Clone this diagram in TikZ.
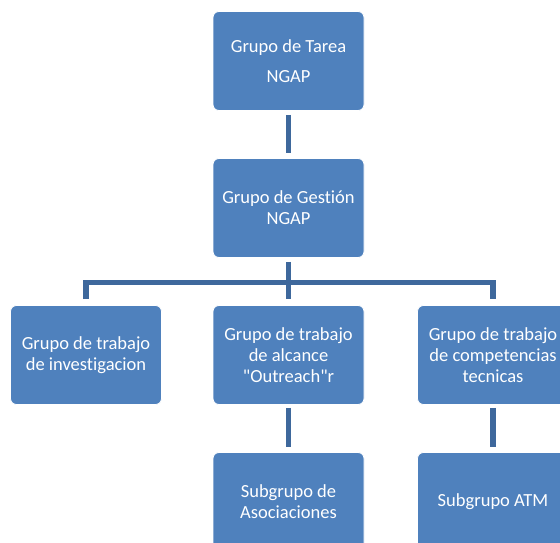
\documentclass[tikz,border=0pt]{standalone}
\usepackage{fontspec}
\setmainfont{Carlito}[Ligatures={NoCommon,TeXOff}]
\definecolor{boxblue}{RGB}{79,129,189}
\definecolor{connblue}{RGB}{62,104,156}
\tikzset{
  orgbox/.style={rectangle, rounded corners=6bp, fill=boxblue, draw=white, line width=0.8bp,
    minimum width=151bp, minimum height=99bp, inner sep=0pt, align=center, text=white,
    font=\fontsize{18.5bp}{21bp}\selectfont},
  conn/.style={draw=connblue, line width=5.5bp}
}
\begin{document}
\begin{tikzpicture}[x=1bp,y=-1bp]
\clip (0,0) rectangle (560,543);
\fill[white] (0,0) rectangle (560,543);
\node[orgbox] (tarea) at (288.5,61) {Grupo de Tarea\\[8.5bp]NGAP};
\node[orgbox] (gestion) at (288.5,208) {Grupo de Gestión\\NGAP};
\node[orgbox] (invest) at (86,355) {Grupo de trabajo\\de investigacion};
\node[orgbox] (alcance) at (288.5,355) {Grupo de trabajo\\de alcance\\"Outreach"r};
\node[orgbox] (compet) at (493,355) {Grupo de trabajo\\de competencias\\tecnicas};
\node[orgbox] (asoc) at (288.5,502) {Subgrupo de\\Asociaciones};
\node[orgbox] (atm) at (493,502) {Subgrupo ATM};
\coordinate (bar) at (288.5,282.5);
\draw[conn, shorten <=4bp, shorten >=5bp] (tarea.south) -- (gestion.north);
\draw[conn] ([yshift=-4bp]gestion.south) -- ([yshift=6bp]alcance.north);
\draw[conn] ([yshift=6bp]invest.north) |- (bar) -| ([yshift=6bp]compet.north);
\draw[conn, shorten <=3bp, shorten >=5bp] (alcance.south) -- (asoc.north);
\draw[conn, shorten <=3bp, shorten >=5bp] (compet.south) -- (atm.north);
\end{tikzpicture}
\end{document}
